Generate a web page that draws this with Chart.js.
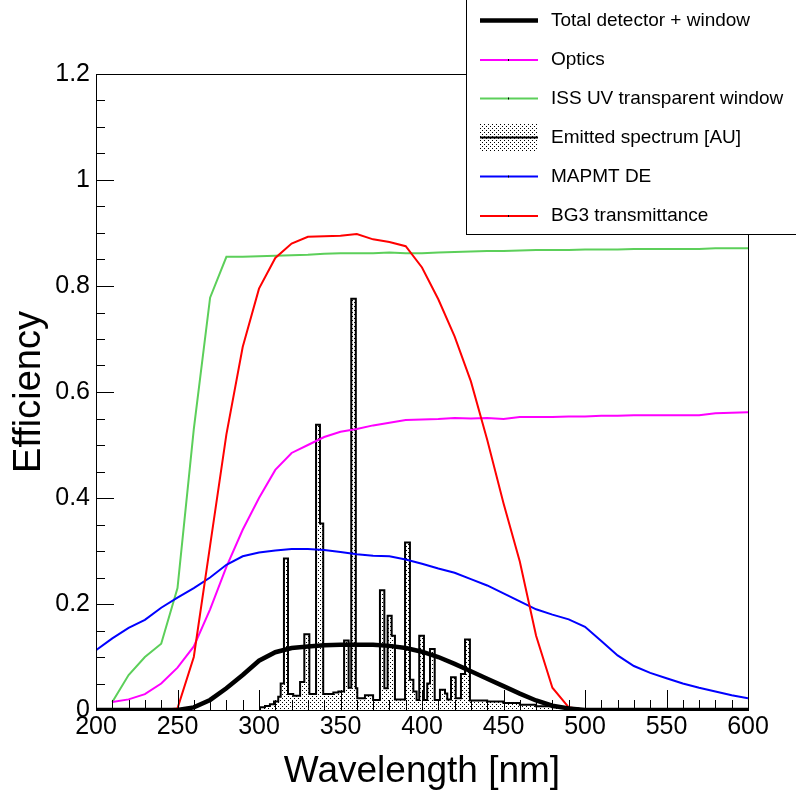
<!DOCTYPE html>
<html>
<head>
<meta charset="utf-8">
<script src="https://cdn.jsdelivr.net/npm/chart.js@4/dist/chart.umd.min.js"></script>
<style>
	html, body { margin: 0; padding: 0; background: #fff; }
	canvas { display: block; }
</style>
</head>
<body>
<canvas id="chart" width="796" height="795"></canvas>
<script>
// wavelength grid of the curves [nm]
const wavelengths = [200, 210, 220, 230, 240, 250, 260, 270, 280, 290, 300, 310, 320, 330, 340, 350, 360, 370, 380, 390, 400,
	410, 420, 430, 440, 450, 460, 470, 480, 490, 500, 510, 520, 530, 540, 550, 560, 570, 580, 590, 600];

const totalDetector = [0, 0, 0, 0, 0, 0, 0.005, 0.019, 0.041, 0.066, 0.093, 0.109, 0.117, 0.12, 0.122, 0.123, 0.123, 0.123, 0.121, 0.117, 0.11,
	0.1, 0.087, 0.073, 0.059, 0.045, 0.031, 0.018, 0.008, 0.003, 0, 0, 0, 0, 0, 0, 0, 0, 0, 0, 0];
const optics = [null, 0.015, 0.02, 0.03, 0.05, 0.08, 0.12, 0.19, 0.27, 0.34, 0.4, 0.453, 0.485, 0.5, 0.515, 0.525, 0.53, 0.537, 0.542, 0.547, 0.548,
	0.549, 0.551, 0.55, 0.551, 0.549, 0.553, 0.553, 0.553, 0.554, 0.554, 0.555, 0.555, 0.556, 0.556, 0.556, 0.556, 0.556, 0.56, 0.561, 0.562];
const issWindow = [null, 0.015, 0.066, 0.1, 0.125, 0.23, 0.53, 0.778, 0.855, 0.855, 0.856, 0.857, 0.858, 0.859, 0.861, 0.862, 0.862, 0.862, 0.863, 0.862, 0.862,
	0.863, 0.864, 0.865, 0.866, 0.866, 0.867, 0.868, 0.868, 0.868, 0.869, 0.869, 0.869, 0.87, 0.87, 0.87, 0.87, 0.87, 0.871, 0.871, 0.871];
const mapmtDE = [0.113, 0.135, 0.155, 0.17, 0.193, 0.212, 0.23, 0.25, 0.274, 0.29, 0.297, 0.301, 0.304, 0.304, 0.302, 0.298, 0.294, 0.291, 0.29, 0.284, 0.276,
	0.267, 0.259, 0.247, 0.235, 0.22, 0.205, 0.19, 0.18, 0.171, 0.157, 0.13, 0.103, 0.083, 0.07, 0.06, 0.05, 0.042, 0.035, 0.028, 0.022];
const bg3 = [0, 0, 0, 0, 0, 0.003, 0.1, 0.31, 0.52, 0.685, 0.795, 0.853, 0.88, 0.893, 0.894, 0.895, 0.898, 0.888, 0.883, 0.875, 0.835,
	0.775, 0.705, 0.62, 0.51, 0.39, 0.28, 0.14, 0.042, 0.005, 0, 0, 0, 0, 0, 0, 0, 0, 0, 0, 0];

// emitted spectrum histogram: left bin edges [nm] and levels [AU]
const specEdges = [300.6, 303.7, 306.7, 309.2, 311.8, 313.3, 315.3, 317.8, 321.0, 325.2, 327.8, 330.9, 335.0, 337.4, 339.4, 345.6, 348.7,
	352.2, 355.0, 356.6, 359.4, 360.3, 365.0, 370.0, 374.2, 376.9, 378.9, 381.4, 383.4, 389.6, 392.6, 394.7, 396.7, 398.3, 401.2, 403.2,
	404.9, 407.8, 411.0, 414.1, 415.5, 417.8, 420.7, 423.9, 426.4, 429.4, 440, 450, 460, 470, 480, 490, 496];
const specLevels = [0.005, 0.0075, 0.011, 0.016, 0.025, 0.05, 0.286, 0.03, 0.027, 0.053, 0.143, 0.03, 0.538, 0.352, 0.03, 0.033, 0.035,
	0.131, 0.042, 0.776, 0.041, 0.022, 0.028, 0.019, 0.226, 0.041, 0.178, 0.14, 0.02, 0.316, 0.057, 0.035, 0.019, 0.14, 0.019, 0.05,
	0.115, 0.019, 0.038, 0.031, 0.02, 0.062, 0.022, 0.068, 0.133, 0.018, 0.016, 0.013, 0.01, 0.007, 0.005, 0.003, 0];

const xTicks = { min: 200, max: 600, major: 50, minor: 10 };
const yTicks = { min: 0, max: 1.2, major: 0.2, minor: 0.05 };

let font = 'Liberation Sans, Arial, Helvetica, sans-serif';

let points = function(values) {
	let out = [];
	values.forEach(function(v, i) {
		if (v !== null) {
			out.push({ x: wavelengths[i], y: v });
		}
	});
	return out;
};

// dotted fill like ROOT style 3001
let dots = (function() {
	let tile = document.createElement('canvas');
	tile.width = 4;
	tile.height = 4;
	let c = tile.getContext('2d');
	c.fillStyle = '#fff';
	c.fillRect(0, 0, 4, 4);
	c.fillStyle = '#000';
	c.fillRect(0, 0, 1, 1);
	c.fillRect(2, 2, 1, 1);
	return c.createPattern(tile, 'repeat');
})();

let specPoints = [{ x: specEdges[0], y: 0 }].concat(specEdges.map(function(x, i) {
	return { x: x, y: specLevels[i] };
}));

let frame = {
	id: 'frame',
	afterDatasetsDraw: function(chart) {
		let ctx = chart.ctx,
			a = chart.chartArea,
			xs = chart.scales.x,
			ys = chart.scales.y;

		ctx.save();
		ctx.strokeStyle = '#000';
		ctx.lineWidth = 1;
		ctx.strokeRect(Math.round(a.left) + 0.5, Math.round(a.top) + 0.5, Math.round(a.right - a.left), Math.round(a.bottom - a.top));

		ctx.beginPath();
		for (let v = xTicks.min; v <= xTicks.max + 1e-9; v += xTicks.minor) {
			let px = Math.round(xs.getPixelForValue(v)) + 0.5,
				len = Math.abs(v % xTicks.major) < 1e-6 ? 20 : 10;
			ctx.moveTo(px, a.bottom);
			ctx.lineTo(px, a.bottom - len);
		}
		for (let k = 0; k <= Math.round((yTicks.max - yTicks.min) / yTicks.minor); k++) {
			let v = yTicks.min + k * yTicks.minor,
				py = Math.round(ys.getPixelForValue(v)) + 0.5,
				len = k % 4 === 0 ? 18 : 9;
			ctx.moveTo(a.left, py);
			ctx.lineTo(a.left + len, py);
		}
		ctx.stroke();
		ctx.restore();
	}
};

let legendBox = {
	id: 'legendBox',
	afterDraw: function(chart) {
		let ctx = chart.ctx,
			box = { left: 466.5, top: -1, width: 340, height: 235.5 },
			rows = [20.5, 60, 98.5, 137.5, 176.5, 216];

		ctx.save();
		ctx.fillStyle = '#fff';
		ctx.fillRect(box.left, box.top, box.width, box.height);
		ctx.strokeStyle = '#000';
		ctx.lineWidth = 1;
		ctx.strokeRect(box.left, box.top, box.width, box.height);

		ctx.font = '19px ' + font;
		ctx.textBaseline = 'middle';
		chart.data.datasets.forEach(function(ds, i) {
			let y = rows[i];
			if (ds.fill) {
				ctx.fillStyle = dots;
				ctx.fillRect(480, y - 14, 58, 28);
			}
			ctx.strokeStyle = ds.borderColor;
			ctx.lineWidth = ds.borderWidth;
			ctx.beginPath();
			ctx.moveTo(480, y);
			ctx.lineTo(538, y);
			ctx.stroke();
			if (!ds.fill && ds.borderWidth < 3) {
				ctx.fillStyle = '#000';
				ctx.fillRect(508, y - 1, 1, 2);
			}
			ctx.fillStyle = '#000';
			ctx.fillText(ds.label, 551, y);
		});
		ctx.restore();
	}
};

new Chart(document.getElementById('chart'), {
	type: 'line',
	data: {
		datasets: [
			{ label: 'Total detector + window', data: points(totalDetector), borderColor: '#000', borderWidth: 4.5, order: 0 },
			{ label: 'Optics', data: points(optics), borderColor: '#ff00ff', borderWidth: 2, order: 3 },
			{ label: 'ISS UV transparent window', data: points(issWindow), borderColor: '#5ccf5a', borderWidth: 2, order: 4 },
			{ label: 'Emitted spectrum [AU]', data: specPoints, borderColor: '#000', borderWidth: 2, stepped: true,
				fill: 'origin', backgroundColor: dots, order: 5 },
			{ label: 'MAPMT DE', data: points(mapmtDE), borderColor: '#0000ff', borderWidth: 2, order: 2 },
			{ label: 'BG3 transmittance', data: points(bg3), borderColor: '#ff0000', borderWidth: 2, order: 1 }
		]
	},
	options: {
		responsive: false,
		animation: false,
		devicePixelRatio: 1,
		layout: { padding: { top: 74, right: 48, left: 0, bottom: 0 } },
		elements: {
			point: { radius: 0, hoverRadius: 0 },
			line: { tension: 0, borderJoinStyle: 'miter' }
		},
		plugins: {
			legend: { display: false },
			tooltip: { enabled: false }
		},
		scales: {
			x: {
				type: 'linear',
				min: xTicks.min,
				max: xTicks.max,
				grid: { display: false, drawTicks: false },
				border: { display: false },
				ticks: { stepSize: xTicks.major, color: '#000', padding: 2, font: { family: font, size: 25 } },
				title: { display: true, text: 'Wavelength [nm]', color: '#000', padding: { top: 0, bottom: 1 }, font: { family: font, size: 37 } },
				afterFit: function(scale) { scale.height = 85; }
			},
			y: {
				type: 'linear',
				min: yTicks.min,
				max: yTicks.max,
				grid: { display: false, drawTicks: false },
				border: { display: false },
				ticks: {
					stepSize: yTicks.major,
					color: '#000',
					padding: 6,
					font: { family: font, size: 25 },
					callback: function(value) { return String(parseFloat(value.toFixed(2))); }
				},
				title: { display: true, text: 'Efficiency', color: '#000', padding: { top: 7, bottom: 0 }, font: { family: font, size: 38 } },
				afterFit: function(scale) { scale.width = 96; }
			}
		}
	},
	plugins: [frame, legendBox]
});
</script>
</body>
</html>
